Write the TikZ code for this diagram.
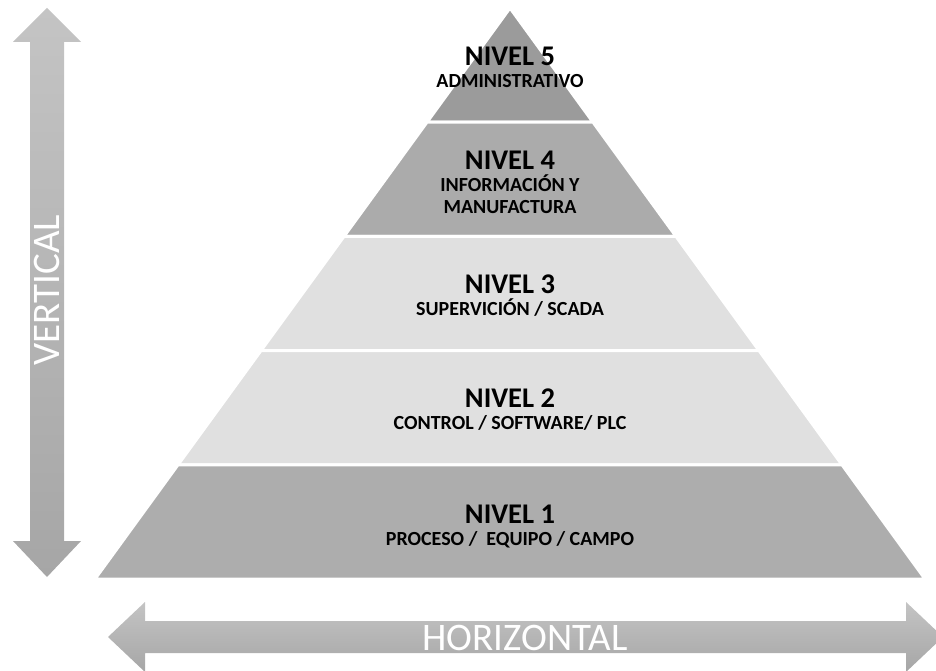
\documentclass[tikz,border=0pt]{standalone}
\usepackage{fontspec}
\setmainfont{Carlito}
\usetikzlibrary{calc}
\definecolor{levelfive}{RGB}{155,155,155}
\definecolor{levelfour}{RGB}{171,171,171}
\definecolor{levelthree}{RGB}{224,224,224}
\definecolor{leveltwo}{RGB}{224,224,224}
\definecolor{levelone}{RGB}{173,173,173}
\definecolor{arrowtop}{RGB}{196,196,196}
\definecolor{arrowbottom}{RGB}{166,166,166}

\newcommand{\nivel}[1]{{\fontsize{28.5}{28}\selectfont NIVEL #1}}

\begin{document}
\begin{tikzpicture}[x=1pt, y=-1pt,
    layer/.style={draw=white, line width=3pt},
    levelbox/.style={align=center, font=\bfseries\fontsize{20}{22}\selectfont,
                     inner sep=0pt},
    axisarrow/.style={top color=arrowtop, bottom color=arrowbottom},
    axislabel/.style={text=white, font=\fontsize{39}{39}\selectfont, inner sep=0pt}
  ]
    \useasboundingbox (0,0) rectangle (936,671);
    \clip (0,0) rectangle (936,671);

    % pyramid corners
    \coordinate (apex) at (510,8);
    \coordinate (bl) at (95,579);
    \coordinate (br) at (925,579);

    % five layers, cut at equal heights
    \foreach \a/\b/\c in {0/0.2/levelfive, 0.2/0.4/levelfour, 0.4/0.6/levelthree,
                          0.6/0.8/leveltwo, 0.8/1/levelone}
      \filldraw[layer, fill=\c] ($(apex)!\a!(bl)$) -- ($(apex)!\a!(br)$)
        -- ($(apex)!\b!(br)$) -- ($(apex)!\b!(bl)$) -- cycle;

    \node[levelbox] (n5) at (510,67) {\nivel{5}\\ ADMINISTRATIVO};
    \node[levelbox] (n4) at (510,182) {\nivel{4}\\ INFORMACIÓN Y\\ MANUFACTURA};
    \node[levelbox] (n3) at (510,296) {\nivel{3}\\ SUPERVICIÓN / SCADA};
    \node[levelbox] (n2) at (510,410) {\nivel{2}\\ CONTROL / SOFTWARE/ PLC};
    \node[levelbox] (n1) at (510,526) {\nivel{1}\\ PROCESO /\ \ EQUIPO / CAMPO};

    % vertical axis
    \shade[axisarrow] (47,8) -- (81,42) -- (64,42) -- (64,541) -- (81,541)
      -- (47,577) -- (13,541) -- (30,541) -- (30,42) -- (13,42) -- cycle;
    \node[axislabel, rotate=90] (vert) at (47,290) {VERTICAL};

    % horizontal axis
    \shade[axisarrow] (108,637) -- (145,602) -- (145,621) -- (906,621) -- (906,602)
      -- (943,637) -- (906,672) -- (906,653) -- (145,653) -- (145,672) -- cycle;
    \node[axislabel] (horiz) at (525,638) {HORIZONTAL};
\end{tikzpicture}
\end{document}
